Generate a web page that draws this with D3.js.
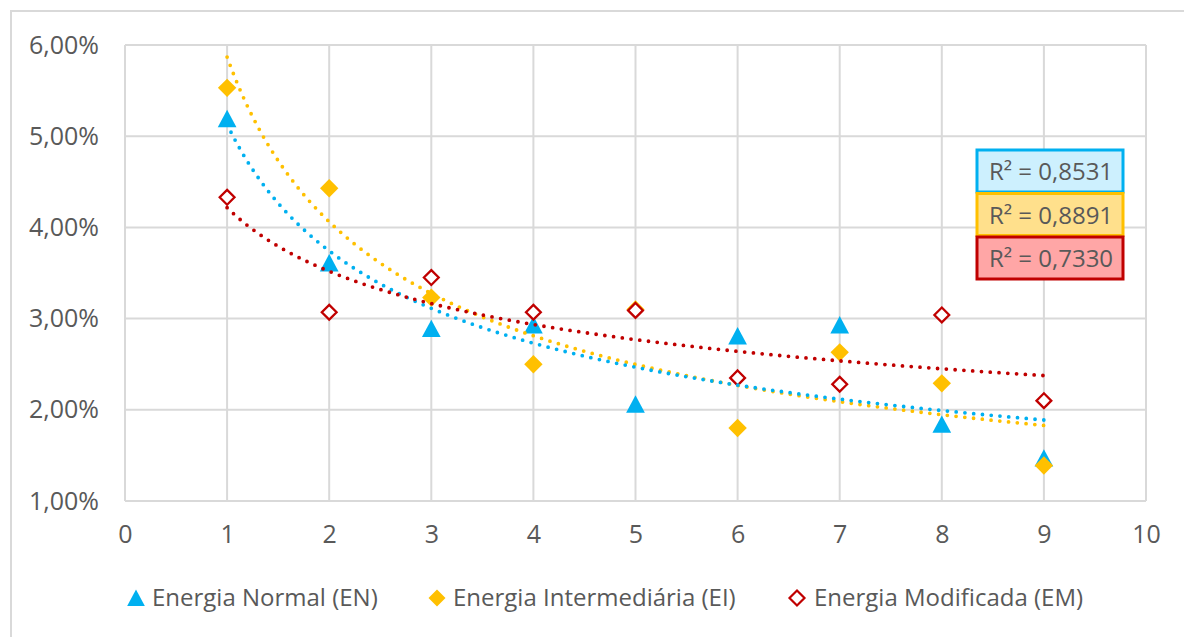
<!DOCTYPE html>
<html>
<head>
<meta charset="utf-8">
<script src="https://cdn.jsdelivr.net/npm/d3@7"></script>
<style>
  html, body { margin: 0; padding: 0; background: #ffffff; }
  svg { display: block; }
  text { font-family: "Open Sans", "Noto Sans", sans-serif; fill: #595959; }
</style>
</head>
<body>
<svg id="chart" width="1184" height="637"></svg>
<script>
// Measurement position (1..9) and the three energy series, in percent
const positions = [1, 2, 3, 4, 5, 6, 7, 8, 9];
const energiaNormal = [5.19, 3.61, 2.89, 2.93, 2.06, 2.81, 2.93, 1.84, 1.47];
const energiaIntermediaria = [5.53, 4.43, 3.23, 2.50, 3.10, 1.80, 2.63, 2.29, 1.39];
const energiaModificada = [4.33, 3.07, 3.45, 3.07, 3.09, 2.35, 2.28, 3.04, 2.10];

const seriesNames = ["Energia Normal (EN)", "Energia Intermediária (EI)", "Energia Modificada (EM)"];
const r2Labels = ["R² = 0,8531", "R² = 0,8891", "R² = 0,7330"];

const xTicks = [0, 1, 2, 3, 4, 5, 6, 7, 8, 9, 10];
const yTicks = [1, 2, 3, 4, 5, 6];

const colors = {
  en: "#00B0F0",
  ei: "#FFC000",
  em: "#C00000",
  grid: "#D9D9D9"
};

const svg = d3.select("#chart");

// Outer chart frame (only top and left edges fall inside the view)
svg.append("path")
  .attr("d", "M11,637 V11 H1184")
  .attr("fill", "none")
  .attr("stroke", colors.grid)
  .attr("stroke-width", 2);

const plot = { left: 125, right: 1146, top: 45, bottom: 501 };

const x = d3.scaleLinear().domain([0, 10]).range([plot.left, plot.right]);
const y = d3.scaleLinear().domain([1, 6]).range([plot.bottom, plot.top]);

// Gridlines
const grid = svg.append("g");
grid.selectAll("line.h").data(yTicks).join("line")
  .attr("x1", plot.left).attr("x2", plot.right)
  .attr("y1", d => y(d)).attr("y2", d => y(d))
  .attr("stroke", colors.grid).attr("stroke-width", 2);
grid.selectAll("line.v").data(xTicks).join("line")
  .attr("y1", plot.top).attr("y2", plot.bottom)
  .attr("x1", d => x(d)).attr("x2", d => x(d))
  .attr("stroke", colors.grid).attr("stroke-width", 2);

// Axes (labels only; the gridlines carry the lines)
const fmtPct = d => d3.format(".2f")(d).replace(".", ",") + "%";

const yAxis = svg.append("g")
  .attr("transform", `translate(${plot.left},0)`)
  .call(d3.axisLeft(y).tickValues(yTicks).tickFormat(fmtPct).tickSize(0).tickPadding(26));
yAxis.select(".domain").remove();
yAxis.selectAll("text")
  .style("font-size", "25px")
  .attr("fill", "#595959")
  .attr("font-family", "Open Sans");

const xAxis = svg.append("g")
  .attr("transform", `translate(0,${plot.bottom})`)
  .call(d3.axisBottom(x).tickValues(xTicks).tickFormat(d3.format("d")).tickSize(0).tickPadding(24));
xAxis.select(".domain").remove();
xAxis.selectAll("text")
  .style("font-size", "25px")
  .attr("fill", "#595959")
  .attr("font-family", "Open Sans");

// Marker shapes
const triPath = (s) => `M0,${-s * 0.5} L${s * 0.52},${s * 0.47} L${-s * 0.52},${s * 0.47} Z`;
const diaPath = (r) => `M0,${-r} L${r},0 L0,${r} L${-r},0 Z`;

const series = [
  { key: "en", values: energiaNormal, color: colors.en, shape: "tri" },
  { key: "ei", values: energiaIntermediaria, color: colors.ei, shape: "dia" },
  { key: "em", values: energiaModificada, color: colors.em, shape: "hollow" }
];

function drawMarker(g, s) {
  if (s.shape === "tri") {
    g.append("path").attr("d", triPath(18)).attr("fill", s.color);
  } else if (s.shape === "dia") {
    g.append("path").attr("d", diaPath(9.2)).attr("fill", s.color);
  } else {
    g.append("path").attr("d", diaPath(7.4))
      .attr("fill", "#ffffff").attr("stroke", s.color).attr("stroke-width", 2.3);
  }
}

// Data markers
series.forEach(s => {
  const layer = svg.append("g");
  positions.forEach((p, i) => {
    const g = layer.append("g").attr("transform", `translate(${x(p)},${y(s.values[i])})`);
    drawMarker(g, s);
  });
});

// Power-law trendlines fitted by least squares on ln(x), ln(y)
function powerFit(xs, ys) {
  const lx = xs.map(Math.log), ly = ys.map(Math.log);
  const mx = d3.mean(lx), my = d3.mean(ly);
  let sxy = 0, sxx = 0;
  lx.forEach((v, i) => { sxy += (v - mx) * (ly[i] - my); sxx += (v - mx) * (v - mx); });
  const b = sxy / sxx;
  const a = Math.exp(my - b * mx);
  return t => a * Math.pow(t, b);
}

const trendX = d3.range(1, 9.0001, 0.05);
const line = d3.line().x(d => x(d[0])).y(d => y(d[1]));

[series[1], series[0], series[2]].forEach(s => {
  const f = powerFit(positions, s.values);
  svg.append("path")
    .datum(trendX.map(t => [t, f(t)]))
    .attr("d", line)
    .attr("fill", "none")
    .attr("stroke", s.color)
    .attr("stroke-width", 3.8)
    .attr("stroke-linecap", "round")
    .attr("stroke-dasharray", "0 8.8");
});

// R² boxes
const r2Boxes = [
  { fill: "#CDF0FE", stroke: colors.en },
  { fill: "#FFE08C", stroke: colors.ei },
  { fill: "#FFA6A6", stroke: colors.em }
];
const boxX = 977, boxW = 146, boxH = 42, boxTop = 150, boxStep = 43.5;
r2Boxes.forEach((b, i) => {
  const top = boxTop + i * boxStep;
  svg.append("rect")
    .attr("x", boxX).attr("y", top).attr("width", boxW).attr("height", boxH)
    .attr("fill", b.fill).attr("stroke", b.stroke).attr("stroke-width", 3);
  svg.append("text")
    .attr("x", boxX + boxW / 2 + 1).attr("y", top + boxH / 2 + 9)
    .attr("text-anchor", "middle")
    .style("font-size", "24px")
    .text(r2Labels[i]);
});

// Legend
const legendItems = [
  { s: series[0], mx: 136, tx: 152 },
  { s: series[1], mx: 437, tx: 453 },
  { s: series[2], mx: 797, tx: 814 }
];
const legendY = 598;
legendItems.forEach((it, i) => {
  const g = svg.append("g").attr("transform", `translate(${it.mx},${legendY})`);
  if (it.s.shape === "tri") {
    g.append("path").attr("d", triPath(17)).attr("fill", it.s.color);
  } else if (it.s.shape === "dia") {
    g.append("path").attr("d", diaPath(8.5)).attr("fill", it.s.color);
  } else {
    g.append("path").attr("d", diaPath(7.5))
      .attr("fill", "#ffffff").attr("stroke", it.s.color).attr("stroke-width", 2.2);
  }
  svg.append("text")
    .attr("x", it.tx).attr("y", legendY + 8)
    .style("font-size", "24px")
    .text(seriesNames[i]);
});
</script>
</body>
</html>
